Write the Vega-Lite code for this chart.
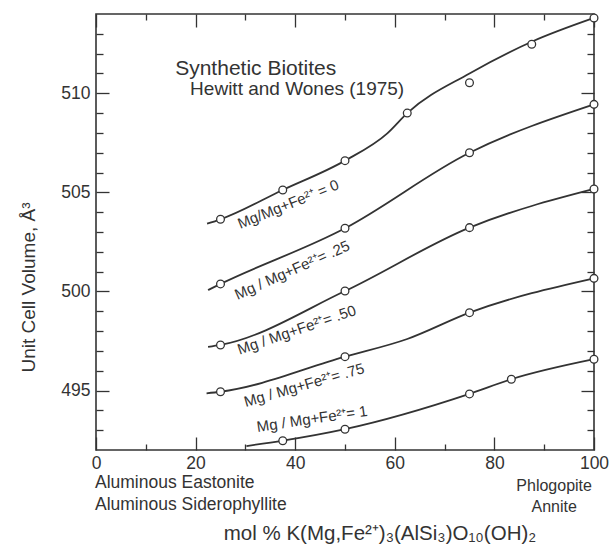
{
  "$schema": "https://vega.github.io/schema/vega-lite/v6.json",
  "width": 498,
  "height": 436,
  "autosize": {"type": "none"},
  "padding": {"left": 96, "top": 14, "right": 16, "bottom": 103},
  "background": "white",
  "config": {
    "view": {"stroke": "#333333", "strokeWidth": 1.6},
    "axis": {"grid": false, "domain": false, "labelFont": "Liberation Sans", "titleFont": "Liberation Sans", "labelColor": "#333333", "titleColor": "#333333", "tickColor": "#333333", "titleFontWeight": "normal", "tickWidth": 1.3},
    "text": {"font": "Liberation Sans", "color": "#333333"}
  },
  "datasets": {
    "curves": [
      {"series": "0", "x": 22.3, "v": 503.42}, {"series": "0", "x": 25, "v": 503.64}, {"series": "0", "x": 37.5, "v": 505.12}, {"series": "0", "x": 50, "v": 506.6}, {"series": "0", "x": 58.5, "v": 507.98}, {"series": "0", "x": 62.5, "v": 509.0}, {"series": "0", "x": 75, "v": 511.0}, {"series": "0", "x": 87.5, "v": 512.6}, {"series": "0", "x": 100, "v": 513.8},
      {"series": "0.25", "x": 22.5, "v": 500.07}, {"series": "0.25", "x": 25, "v": 500.38}, {"series": "0.25", "x": 50, "v": 503.19}, {"series": "0.25", "x": 75, "v": 507.0}, {"series": "0.25", "x": 100, "v": 509.44},
      {"series": "0.50", "x": 22.5, "v": 497.2}, {"series": "0.50", "x": 25, "v": 497.3}, {"series": "0.50", "x": 50, "v": 500.02}, {"series": "0.50", "x": 75, "v": 503.22}, {"series": "0.50", "x": 100, "v": 505.17},
      {"series": "0.75", "x": 22.2, "v": 494.86}, {"series": "0.75", "x": 25, "v": 494.94}, {"series": "0.75", "x": 50, "v": 496.71}, {"series": "0.75", "x": 62.5, "v": 497.6}, {"series": "0.75", "x": 75, "v": 498.93}, {"series": "0.75", "x": 100, "v": 500.66},
      {"series": "1", "x": 30.2, "v": 492.2}, {"series": "1", "x": 37.5, "v": 492.47}, {"series": "1", "x": 50, "v": 493.05}, {"series": "1", "x": 75, "v": 494.83}, {"series": "1", "x": 83.4, "v": 495.57}, {"series": "1", "x": 100, "v": 496.58}
    ],
    "points": [
      {"series": "0", "x": 25, "v": 503.64}, {"series": "0", "x": 37.5, "v": 505.12}, {"series": "0", "x": 50, "v": 506.6}, {"series": "0", "x": 62.5, "v": 509.0}, {"series": "0", "x": 75, "v": 510.53}, {"series": "0", "x": 87.5, "v": 512.47}, {"series": "0", "x": 100, "v": 513.8},
      {"series": "0.25", "x": 25, "v": 500.38}, {"series": "0.25", "x": 50, "v": 503.19}, {"series": "0.25", "x": 75, "v": 507.0}, {"series": "0.25", "x": 100, "v": 509.44},
      {"series": "0.50", "x": 25, "v": 497.3}, {"series": "0.50", "x": 50, "v": 500.02}, {"series": "0.50", "x": 75, "v": 503.22}, {"series": "0.50", "x": 100, "v": 505.17},
      {"series": "0.75", "x": 25, "v": 494.94}, {"series": "0.75", "x": 50, "v": 496.71}, {"series": "0.75", "x": 75, "v": 498.93}, {"series": "0.75", "x": 100, "v": 500.66},
      {"series": "1", "x": 37.5, "v": 492.47}, {"series": "1", "x": 50, "v": 493.05}, {"series": "1", "x": 75, "v": 494.83}, {"series": "1", "x": 83.4, "v": 495.57}, {"series": "1", "x": 100, "v": 496.58}
    ]
  },
  "resolve": {"axis": {"x": "independent", "y": "independent"}},
  "layer": [
    {
      "data": {"name": "curves"},
      "mark": {"type": "line", "interpolate": "monotone", "color": "#333333", "strokeWidth": 1.8},
      "encoding": {
        "x": {"field": "x", "type": "quantitative", "scale": {"domain": [0, 100], "nice": false, "zero": false},
          "axis": {"orient": "bottom", "values": [0, 20, 40, 60, 80, 100], "ticks": false, "labelFontSize": 17.5, "labelPadding": 4, "labelFlush": false,
            "title": "mol % K(Mg,Fe²⁺)₃(AlSi₃)O₁₀(OH)₂", "titleFontSize": 20.5, "titleX": 283.5, "titleY": 89, "titleBaseline": "alphabetic"}},
        "y": {"field": "v", "type": "quantitative", "scale": {"domain": [492, 514], "nice": false, "zero": false},
          "axis": {"orient": "left", "values": [495, 500, 505, 510], "ticks": false, "labelFontSize": 17.5, "labelPadding": 6, "labelFlush": false,
            "title": "Unit Cell Volume, Å³", "titleFontSize": 19, "titleX": -68, "titleY": 273, "titleBaseline": "middle"}},
        "detail": {"field": "series"}
      }
    },
    {
      "data": {"name": "points"},
      "mark": {"type": "point", "shape": "circle", "filled": true, "fill": "white", "stroke": "#333333", "strokeWidth": 1.3, "size": 60, "opacity": 1},
      "encoding": {
        "x": {"field": "x", "type": "quantitative", "axis": {"orient": "bottom", "offset": -436, "values": [0, 20, 40, 60, 80, 100], "tickSize": 13, "labels": false, "title": null}},
        "y": {"field": "v", "type": "quantitative", "axis": {"orient": "left", "offset": -498, "values": [495, 500, 505, 510], "tickSize": 13, "labels": false, "title": null}}
      }
    },
    {
      "data": {"name": "points"},
      "mark": {"type": "point", "opacity": 0},
      "encoding": {
        "x": {"field": "x", "type": "quantitative", "axis": {"orient": "bottom", "offset": -436, "values": [10, 30, 50, 70, 90], "tickSize": 6, "labels": false, "title": null}},
        "y": {"field": "v", "type": "quantitative", "axis": {"orient": "left", "offset": -498, "values": [493, 494, 496, 497, 498, 499, 501, 502, 503, 504, 506, 507, 508, 509, 511, 512, 513], "tickSize": 7, "labels": false, "title": null}}
      }
    },
    {
      "data": {"name": "points"},
      "mark": {"type": "point", "opacity": 0},
      "encoding": {
        "x": {"field": "x", "type": "quantitative", "axis": {"orient": "top", "offset": -436, "values": [0, 20, 40, 60, 80, 100], "tickSize": 13, "labels": false, "title": null}},
        "y": {"field": "v", "type": "quantitative", "axis": {"orient": "right", "offset": -498, "values": [495, 500, 505, 510], "tickSize": 13, "labels": false, "title": null}}
      }
    },
    {
      "data": {"name": "points"},
      "mark": {"type": "point", "opacity": 0},
      "encoding": {
        "x": {"field": "x", "type": "quantitative", "axis": {"orient": "top", "offset": -436, "values": [10, 30, 50, 70, 90], "tickSize": 6, "labels": false, "title": null}},
        "y": {"field": "v", "type": "quantitative", "axis": {"orient": "right", "offset": -498, "values": [493, 494, 496, 497, 498, 499, 501, 502, 503, 504, 506, 507, 508, 509, 511, 512, 513], "tickSize": 7, "labels": false, "title": null}}
      }
    },
    {
      "data": {"values": [{"label": "Synthetic Biotites", "x": 15.9, "v": 511.25, "size": "big"}, {"label": "Hewitt and Wones (1975)", "x": 18.9, "v": 510.2, "size": "small"}]},
      "mark": {"type": "text", "align": "left", "baseline": "middle"},
      "encoding": {
        "x": {"field": "x", "type": "quantitative", "axis": null},
        "y": {"field": "v", "type": "quantitative", "axis": null},
        "text": {"field": "label"},
        "size": {"field": "size", "type": "nominal", "scale": {"domain": ["big", "small"], "range": [21, 19]}, "legend": null}
      }
    },
    {
      "data": {"values": [{"label": "Aluminous Eastonite", "x": -0.2, "v": 490.32}, {"label": "Aluminous Siderophyllite", "x": -0.2, "v": 489.25}]},
      "mark": {"type": "text", "align": "left", "baseline": "middle", "fontSize": 17.5},
      "encoding": {
        "x": {"field": "x", "type": "quantitative", "axis": null},
        "y": {"field": "v", "type": "quantitative", "axis": null},
        "text": {"field": "label"}
      }
    },
    {
      "data": {"values": [{"label": "Phlogopite", "x": 92.0, "v": 490.19}, {"label": "Annite", "x": 92.0, "v": 489.14}]},
      "mark": {"type": "text", "align": "center", "baseline": "middle", "fontSize": 16},
      "encoding": {
        "x": {"field": "x", "type": "quantitative", "axis": null},
        "y": {"field": "v", "type": "quantitative", "axis": null},
        "text": {"field": "label"}
      }
    },
    {
      "data": {"values": [{"label": "Mg/Mg+Fe²⁺ = 0", "x": 38.6, "v": 504.4}]},
      "mark": {"type": "text", "align": "center", "baseline": "middle", "fontSize": 15, "angle": -22},
      "encoding": {"x": {"field": "x", "type": "quantitative", "axis": null}, "y": {"field": "v", "type": "quantitative", "axis": null}, "text": {"field": "label"}}
    },
    {
      "data": {"values": [{"label": "Mg / Mg+Fe²⁺= .25", "x": 39.4, "v": 501.08}]},
      "mark": {"type": "text", "align": "center", "baseline": "middle", "fontSize": 15, "angle": -24},
      "encoding": {"x": {"field": "x", "type": "quantitative", "axis": null}, "y": {"field": "v", "type": "quantitative", "axis": null}, "text": {"field": "label"}}
    },
    {
      "data": {"values": [{"label": "Mg / Mg+Fe²⁺= .50", "x": 40.3, "v": 498.06}]},
      "mark": {"type": "text", "align": "center", "baseline": "middle", "fontSize": 15, "angle": -19},
      "encoding": {"x": {"field": "x", "type": "quantitative", "axis": null}, "y": {"field": "v", "type": "quantitative", "axis": null}, "text": {"field": "label"}}
    },
    {
      "data": {"values": [{"label": "Mg / Mg+Fe²⁺= .75", "x": 41.8, "v": 495.28}]},
      "mark": {"type": "text", "align": "center", "baseline": "middle", "fontSize": 15, "angle": -16},
      "encoding": {"x": {"field": "x", "type": "quantitative", "axis": null}, "y": {"field": "v", "type": "quantitative", "axis": null}, "text": {"field": "label"}}
    },
    {
      "data": {"values": [{"label": "Mg / Mg+Fe²⁺= 1", "x": 43.4, "v": 493.57}]},
      "mark": {"type": "text", "align": "center", "baseline": "middle", "fontSize": 15, "angle": -8.4},
      "encoding": {"x": {"field": "x", "type": "quantitative", "axis": null}, "y": {"field": "v", "type": "quantitative", "axis": null}, "text": {"field": "label"}}
    }
  ]
}
